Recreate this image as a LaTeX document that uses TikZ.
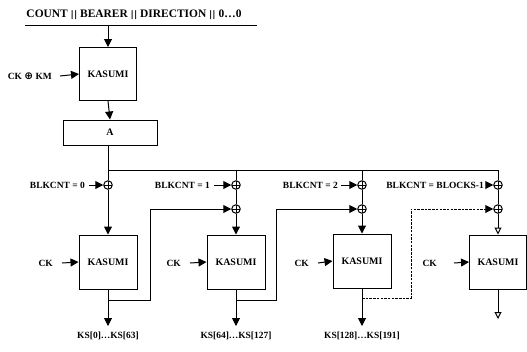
\documentclass[tikz,border=0pt]{standalone}
\usepackage{fontspec}
\setmainfont{Liberation Serif}
\usetikzlibrary{arrows.meta}
\tikzset{
  lw/.style={line width=1pt},
  arr/.style={lw,-{Triangle[length=8bp,width=8bp]}},
  oarr/.style={lw,-{Triangle[open,length=7bp,width=7bp]}},
  kbox/.style={draw,lw,rectangle,minimum width=57bp,minimum height=53bp,inner sep=0pt,font=\fontsize{10}{12}\selectfont\bfseries},
  abox/.style={draw,lw,rectangle,minimum width=94bp,minimum height=25bp,inner sep=0pt,font=\fontsize{10}{12}\selectfont\bfseries},
  lbl/.style={inner sep=1bp,font=\fontsize{9.5}{11}\selectfont\bfseries},
  ttl/.style={inner sep=0pt,font=\fontsize{11.5}{13}\selectfont\bfseries},
  xor/.style={draw,lw,circle,fill=white,minimum size=8.5bp,inner sep=0pt,
    path picture={\draw[line width=0.7pt] (path picture bounding box.west) -- (path picture bounding box.east)
      (path picture bounding box.north) -- (path picture bounding box.south);}},
}
\begin{document}
\begin{tikzpicture}[x=1bp,y=-1bp]
\useasboundingbox (0,0) rectangle (527,351);
% title
\node[ttl] (title) at (134,15) {COUNT {\fontspec{DejaVu Serif}\bfseries\fontsize{9}{11}\selectfont ||} BEARER {\fontspec{DejaVu Serif}\bfseries\fontsize{9}{11}\selectfont ||} DIRECTION {\fontspec{DejaVu Serif}\bfseries\fontsize{9}{11}\selectfont ||} 0\ldots0};
\coordinate (ul1) at (25,25);
\coordinate (ul2) at (257,25);
\coordinate (ultop) at (108,25);
\draw[lw] (ul1) -- (ul2);
% top kasumi
\node[kbox] (k0) at (108,74) {KASUMI};
\node[lbl,anchor=east] (ckkm) at (53,76) {CK {\fontspec{DejaVu Sans}\bfseries\fontsize{10.5}{11}\selectfont ⊕} KM};
\draw[arr] (ultop) -- (k0.north);
\draw[arr] (ckkm.east) ++(7,0) -- (k0.west);
\node[abox] (A) at (110,132.5) {A};
\draw[arr] (k0.south) -- (A.north);
% xors
\node[xor] (x1) at (108,185) {};
\node[xor] (x2) at (236,185) {};
\node[xor] (x3) at (362,185) {};
\node[xor] (x4) at (498,185) {};
\node[xor] (y2) at (236,209) {};
\node[xor] (y3) at (362,209) {};
\node[xor] (y4) at (498,209) {};
\coordinate (bus) at (108,170);
\draw[lw] (x1 |- A.south) -- (x1.north);
\draw[lw] (bus) -| (x4.north);
\draw[lw] (x2 |- bus) -- (x2.north);
\draw[lw] (x3 |- bus) -- (x3.north);
\draw[lw] (x2.south) -- (y2.north);
\draw[lw] (x3.south) -- (y3.north);
\draw[lw] (x4.south) -- (y4.north);
% bottom kasumi boxes
\node[kbox,minimum width=58bp,minimum height=54bp] (b1) at (108,262) {KASUMI};
\node[kbox,minimum width=58bp,minimum height=54bp] (b2) at (236,262) {KASUMI};
\node[kbox,minimum width=58bp,minimum height=54bp] (b3) at (362,261) {KASUMI};
\node[kbox,minimum width=57bp,minimum height=54bp] (b4) at (498,262) {KASUMI};
\draw[arr] (x1.south) -- (b1.north);
\draw[arr] (y2.south) -- (b2.north);
\draw[arr] (y3.south) -- (b3.north);
\draw[oarr] (y4.south) -- (b4.north);
% blkcnt labels
\node[lbl,anchor=east] (l1) at (86,185) {BLKCNT = 0};
\node[lbl,anchor=east] (l2) at (211,185) {BLKCNT = 1};
\node[lbl,anchor=east] (l3) at (339,185) {BLKCNT = 2};
\node[lbl,anchor=east] (l4) at (485,185) {BLKCNT = BLOCKS-1};
\draw[arr] (l1.east) ++(3,0) -- (x1.west);
\draw[arr] (l2.east) ++(3,0) -- (x2.west);
\draw[arr] (l3.east) ++(2,0) -- (x3.west);
\draw[arr] (l4.east) ++(1,0) -- (x4.west);
% CK labels
\node[lbl,anchor=east] (c1) at (54,263) {CK};
\node[lbl,anchor=east] (c2) at (182,263) {CK};
\node[lbl,anchor=east] (c3) at (310,263) {CK};
\node[lbl,anchor=east] (c4) at (438,263) {CK};
\draw[arr] (c1.east) ++(8,0) -- (b1.west);
\draw[arr] (c2.east) ++(8,0) -- (b2.west);
\draw[arr] (c3.east) ++(8,0) -- (b3.west);
\draw[arr] (c4.east) ++(16,0) -- (b4.west);
% outputs
\coordinate (o1) at (108,326);
\coordinate (o2) at (236,326);
\coordinate (o3) at (362,326);
\coordinate (o4) at (498,319);
\draw[arr] (b1.south) -- (o1);
\draw[arr] (b2.south) -- (o2);
\draw[arr] (b3.south) -- (o3);
\draw[oarr] (b4.south) -- (o4);
\node[lbl] (ks1) at (108,336) {KS[0]\ldots KS[63]};
\node[lbl] (ks2) at (236,336) {KS[64]\ldots KS[127]};
\node[lbl] (ks3) at (362,336) {KS[128]\ldots KS[191]};
% chaining
\coordinate (br1) at (108,300);
\coordinate (t1) at (150,300);
\coordinate (br2) at (236,300);
\coordinate (t2) at (276,300);
\coordinate (br3) at (362,298);
\coordinate (t3) at (411,298);
\draw[arr] (br1) -- (t1) |- (y2.west);
\draw[arr] (br2) -- (t2) |- (y3.west);
\draw[arr,dashed,dash pattern=on 2.5bp off 1.2bp] (br3) -- (t3) |- (y4.west);
\end{tikzpicture}
\end{document}
